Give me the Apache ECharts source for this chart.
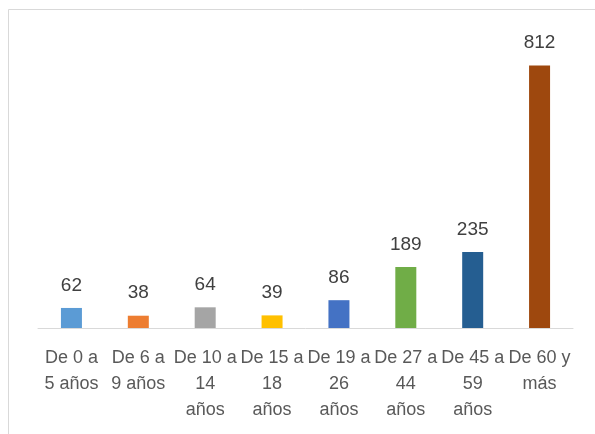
<!DOCTYPE html>
<html>
<head>
<meta charset="utf-8">
<script src="https://cdn.jsdelivr.net/npm/echarts@6/dist/echarts.min.js"></script>
<style>html,body{margin:0;padding:0;background:#fff}#c{width:595px;height:434px}</style>
</head>
<body>
<div id="c"></div>
<script>
var categories = ["De 0 a\n5 años", "De 6 a\n9 años", "De 10 a\n14\naños", "De 15 a\n18\naños", "De 19 a\n26\naños", "De 27 a\n44\naños", "De 45 a\n59\naños", "De 60 y\nmás"];
var values = [62, 38, 64, 39, 86, 189, 235, 812];
var colors = ["#5B9BD5", "#ED7D31", "#A5A5A5", "#FFC000", "#4472C4", "#70AD47", "#255E91", "#9E480E"];

var chart = echarts.init(document.getElementById('c'), null, {renderer: 'canvas'});
chart.setOption({
  animation: false,
  backgroundColor: '#ffffff',
  graphic: [{
    type: 'rect', silent: true, z: -1,
    shape: {x: 8.5, y: 9.5, width: 700, height: 600},
    style: {fill: 'none', stroke: '#d9d9d9', lineWidth: 1}
  }],
  grid: {left: 38, right: 22, top: 37, bottom: 106, containLabel: false},
  xAxis: {
    type: 'category',
    data: categories,
    axisLine: {show: true, lineStyle: {color: '#d9d9d9', width: 1}},
    axisTick: {show: false},
    axisLabel: {
      interval: 0, margin: 17, color: '#595959',
      fontFamily: 'Liberation Sans', fontSize: 18, lineHeight: 26
    }
  },
  yAxis: {
    type: 'value', min: 0, max: 900, interval: 100, show: false,
    splitLine: {show: false}
  },
  series: [{
    type: 'bar',
    barWidth: 21,
    data: values.map(function (v, i) { return {value: v, itemStyle: {color: colors[i]}}; }),
    label: {
      show: true, position: 'top', distance: 13, color: '#404040',
      fontFamily: 'Liberation Sans', fontSize: 19
    }
  }]
});
</script>
</body>
</html>
